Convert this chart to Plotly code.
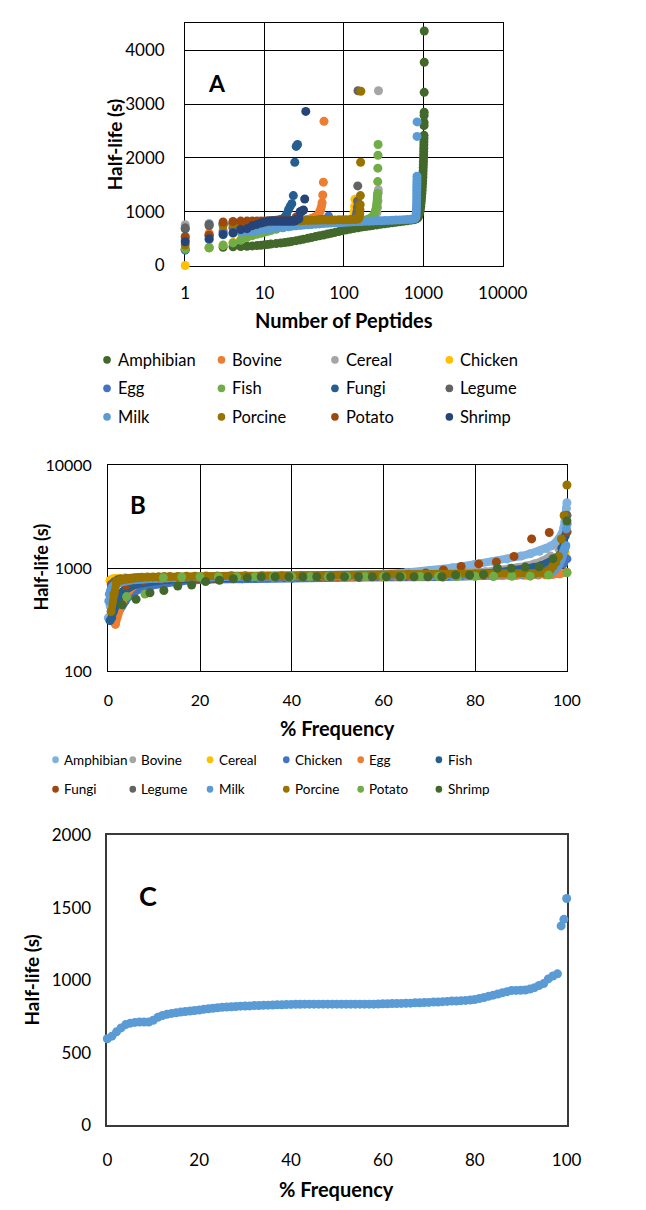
import plotly.graph_objects as go

W, H = 646, 1210

SERIES = ["Amphibian", "Bovine", "Cereal", "Chicken", "Egg", "Fish",
          "Fungi", "Legume", "Milk", "Porcine", "Potato", "Shrimp"]

COLORS_A = {"Amphibian": "#43682B", "Bovine": "#ED7D31", "Cereal": "#A5A5A5",
            "Chicken": "#FFC000", "Egg": "#4472C4", "Fish": "#70AD47",
            "Fungi": "#255E91", "Legume": "#636363", "Milk": "#5B9BD5",
            "Porcine": "#997300", "Potato": "#9E480E", "Shrimp": "#264478"}
COLORS_B = {"Amphibian": "#7FB1DF", "Bovine": "#A5A5A5", "Cereal": "#FFC000",
            "Chicken": "#4472C4", "Egg": "#ED7D31", "Fish": "#255E91",
            "Fungi": "#9E480E", "Legume": "#636363", "Milk": "#5B9BD5",
            "Porcine": "#997300", "Potato": "#70AD47", "Shrimp": "#43682B"}

# ---- (peptide rank, half-life s) (large sets subsampled) ----
AMPHIBIAN_A = [(1, 300), (2, 330), (3, 340), (4, 348), (5, 352), (6, 358), (7, 364), (8, 370), (9, 376),
               (10, 385), (11, 392), (12, 398), (14, 408), (16, 418), (18, 428), (20, 438), (22, 448),
               (25, 462), (28, 476), (31, 490), (35, 505), (39, 520), (44, 537), (49, 552), (55, 567),
               (62, 585), (69, 600), (77, 615), (86, 630), (96, 648), (107, 662), (120, 676), (134, 690),
               (150, 702), (167, 714), (187, 725), (209, 735), (233, 745), (260, 755), (290, 765),
               (324, 775), (362, 784), (404, 793), (451, 802), (503, 812), (561, 822), (626, 832),
               (699, 843), (760, 853), (800, 862), (830, 872), (855, 890), (875, 920), (892, 960),
               (905, 1000), (917, 1050), (927, 1100), (936, 1160), (944, 1220), (951, 1280), (958, 1340),
               (964, 1400), (970, 1460), (975, 1520), (980, 1580), (985, 1640), (989, 1700), (993, 1760),
               (996, 1820), (999, 1880), (1002, 1940), (1005, 2000), (1008, 2060), (1010, 2120),
               (1012, 2180), (1014, 2240), (1016, 2300), (1018, 2360), (1019, 2420), (1020, 2600),
               (1021, 2660), (1022, 2790), (1023, 2850), (1024, 3220), (1025, 3780), (1026, 4360)]
CEREAL = [(1, 760), (2, 780), (3, 790), (4, 795), (6, 800), (10, 808), (16, 812), (25, 815), (40, 818),
          (63, 822), (100, 826), (150, 830), (200, 840), (230, 860), (250, 900), (260, 980), (265, 1080),
          (268, 1200), (270, 1350), (271, 1410), (272, 3250)]
CHICKEN = [(1, 0), (2, 330), (3, 377), (4, 430), (5, 480), (6, 530), (7, 570), (8, 600), (10, 640),
           (13, 680), (17, 720), (22, 750), (30, 775), (40, 790), (55, 800), (75, 810), (100, 820),
           (115, 835), (125, 860), (130, 900), (134, 1000), (136, 1100), (137, 1230)]
FISH = [(1, 310), (2, 330), (3, 380), (4, 420), (5, 470), (6, 520), (7, 555), (8, 580), (9, 600), (10, 620),
        (11, 635), (12, 650), (14, 675), (17, 700), (20, 720), (24, 740), (29, 755), (35, 770), (42, 780),
        (50, 790), (60, 800), (72, 808), (86, 815), (103, 822), (123, 828), (147, 835), (175, 845),
        (200, 860), (215, 880), (228, 910), (238, 945), (245, 980), (250, 1020), (254, 1060), (257, 1100),
        (259, 1140), (261, 1180), (262, 1220), (263, 1260), (264, 1300), (265, 1340), (266, 1560),
        (267, 1810), (268, 2050), (269, 2250)]
LEGUME = [(1, 700), (2, 740), (3, 770), (4, 785), (6, 795), (10, 805), (16, 812), (25, 818), (40, 824),
          (63, 830), (100, 838), (120, 846), (132, 860), (138, 880), (142, 920), (145, 990), (147, 1080),
          (148, 1200), (149, 1480), (150, 3250)]
MILK = [(1, 480), (2, 560), (3, 570), (4, 600), (5, 620), (6, 632), (7, 642), (8, 652), (9, 662), (10, 672),
        (11, 680), (12, 688), (14, 700), (16, 710), (18, 718), (20, 725), (22, 731), (25, 738), (28, 745),
        (31, 751), (35, 757), (39, 763), (44, 769), (49, 774), (55, 779), (62, 784), (69, 788), (77, 792),
        (86, 796), (96, 800), (107, 804), (120, 808), (134, 812), (150, 815), (167, 818), (187, 821),
        (209, 824), (233, 827), (260, 830), (290, 833), (324, 836), (362, 839), (404, 842), (451, 845),
        (503, 848), (561, 852), (626, 856), (699, 861), (750, 866), (780, 872), (795, 885), (805, 910),
        (810, 950), (814, 1000), (817, 1050), (819, 1100), (821, 1160), (823, 1220), (824, 1280),
        (825, 1340), (826, 1400), (827, 1450), (828, 1500), (829, 1550), (830, 1600), (831, 1660),
        (832, 2400), (833, 2670)]
PORCINE = [(1, 380), (2, 560), (3, 742), (4, 760), (5, 772), (6, 782), (7, 790), (8, 797), (9, 803),
           (10, 808), (11, 812), (12, 815), (14, 819), (16, 822), (18, 825), (20, 828), (22, 830), (25, 832),
           (28, 834), (31, 836), (35, 838), (39, 840), (44, 842), (49, 844), (55, 845), (62, 846), (69, 847),
           (77, 848), (86, 849), (96, 850), (107, 851), (120, 852), (134, 855), (145, 860), (152, 870),
           (156, 900), (158, 960), (159, 1040), (160, 1130), (161, 1300), (162, 1920), (163, 3240),
           (164, 6400)]
# ---- small sets: every peptide's half-life, sorted (rank = position) ----
BOVINE_VALUES = [540, 600, 650, 690, 720, 740, 755, 765, 775, 782, 787, 792, 796, 800, 803, 806, 809, 812,
                 815, 818, 820, 822, 824, 826, 828, 830, 832, 834, 836, 838, 840, 843, 846, 849, 852, 856,
                 860, 865, 870, 876, 882, 890, 898, 906, 915, 925, 940, 960, 985, 1010, 1050, 1100, 1170,
                 1310, 1550, 2680]
EGG_VALUES = [285, 480, 620, 700, 740, 760, 770, 780, 785, 790, 793, 796, 799, 802, 804, 806, 808, 810,
              812, 814, 815, 816, 817, 818, 819, 820, 821, 822, 823, 824, 825, 826, 827, 828, 829, 830,
              831, 832, 833, 834, 835, 836, 837, 838, 839, 840, 841, 842, 843, 844, 845, 846, 847, 848,
              849, 850, 852, 854, 856, 858, 862, 868, 880, 915]
FUNGI_VALUES = [680, 760, 770, 780, 790, 798, 805, 810, 815, 820, 825, 830, 835, 840, 848, 856, 870, 900,
                960, 1040, 1100, 1150, 1300, 1920, 2215, 2250]
POTATO_VALUES = [530, 562, 809, 820, 826, 826, 827, 827, 828, 828, 828, 829, 829, 829, 830, 830, 830, 831,
                 831, 832, 833, 834, 837, 858, 902]
SHRIMP_VALUES = [441, 499, 578, 608, 670, 685, 741, 764, 791, 808, 826, 826, 826, 826, 826, 826, 826, 826,
                 826, 826, 826, 826, 826, 826, 858, 858, 870, 1000, 1000, 1024, 1030, 1236, 2865]
# ---- panel B Amphibian: (% frequency, half-life s) ----
AMPHIBIAN_B = [(0, 330), (0.4, 430), (0.8, 530), (1.2, 620), (1.7, 690), (2.3, 740), (3, 770), (4, 785),
               (5.5, 795), (7.5, 803), (10, 810), (15, 818), (20, 824), (30, 832), (40, 840), (50, 848),
               (55, 858), (60, 880), (65, 910), (70, 950), (75, 1010), (80, 1090), (84, 1160), (87, 1230),
               (90, 1310), (92, 1380), (94, 1460), (95.5, 1550), (96.5, 1640), (97.5, 1760), (98.3, 1920),
               (98.9, 2150), (99.3, 2450), (99.6, 2850), (99.8, 3300), (99.9, 3800), (100, 4300)]
# ---- panel C ----
C_PCT = list(range(0, 99)) + [98.8, 99.4, 100]
C_HALF_LIFE = [597, 615, 645, 672, 695, 705, 710, 712, 712, 712,
               725, 745, 758, 766, 772, 777, 781, 785, 788, 792,
               796, 800, 804, 808, 811, 814, 816, 818, 820, 822,
               823, 824, 826, 827, 828, 829, 830, 831, 832, 833,
               834, 835, 835, 836, 836, 836, 836, 836, 836, 836,
               836, 836, 836, 836, 836, 836, 836, 836, 836, 837,
               838, 839, 840, 840, 841, 842, 843, 845, 846, 847,
               848, 850, 851, 853, 855, 857, 858, 860, 862, 864,
               868, 875, 882, 890, 898, 906, 914, 922, 930, 931,
               932, 934, 940, 950, 965, 978, 1010, 1030, 1045,
               1376, 1421, 1565]


def ranked(values):
    return [(i + 1, v) for i, v in enumerate(values)]


DATA = {"Amphibian": AMPHIBIAN_A, "Bovine": ranked(BOVINE_VALUES), "Cereal": CEREAL,
        "Chicken": CHICKEN, "Egg": ranked(EGG_VALUES), "Fish": FISH,
        "Fungi": ranked(FUNGI_VALUES), "Legume": LEGUME, "Milk": MILK, "Porcine": PORCINE,
        "Potato": ranked(POTATO_VALUES), "Shrimp": ranked(SHRIMP_VALUES)}

# styling for panel B: discrete series drawn as dots only; trailing dots left unconnected
B_DISCRETE = {"Fungi", "Potato", "Shrimp"}
B_TAIL = {"Milk": 2, "Porcine": 3, "Fish": 4, "Cereal": 1, "Legume": 2, "Bovine": 2}

A_YMAX = 4500
MS = 9

fig = go.Figure()

# ---------------- Panel A ----------------
for name in SERIES:
    pts = [(r, v) for r, v in DATA[name] if v <= A_YMAX]
    fig.add_trace(go.Scatter(
        x=[p[0] for p in pts], y=[p[1] for p in pts], mode="markers", name=name,
        marker=dict(color=COLORS_A[name], size=MS, line=dict(width=0)),
        xaxis="x", yaxis="y", cliponaxis=False, showlegend=False))

# ---------------- Panel B ----------------
for name in SERIES:
    if name == "Amphibian":
        pts = AMPHIBIAN_B
    else:
        n = DATA[name][-1][0]
        pts = [(100.0 * r / n, v) for r, v in DATA[name] if v > 0]
    xs = [p[0] for p in pts]
    ys = [p[1] for p in pts]
    col = COLORS_B[name]
    if name in B_DISCRETE:
        fig.add_trace(go.Scatter(x=xs, y=ys, mode="markers", name=name,
                                 marker=dict(color=col, size=MS, line=dict(width=0)),
                                 xaxis="x2", yaxis="y2", cliponaxis=False, showlegend=False))
    else:
        k = len(xs) - B_TAIL.get(name, 0)
        fig.add_trace(go.Scatter(x=xs[:k], y=ys[:k], mode="lines+markers", name=name,
                                 line=dict(color=col, width=8),
                                 marker=dict(color=col, size=MS, line=dict(width=0)),
                                 xaxis="x2", yaxis="y2", cliponaxis=False, showlegend=False))
        if k < len(xs):
            fig.add_trace(go.Scatter(x=xs[k:], y=ys[k:], mode="markers", name=name,
                                     marker=dict(color=col, size=MS, line=dict(width=0)),
                                     xaxis="x2", yaxis="y2", cliponaxis=False, showlegend=False))

# ---------------- Panel C ----------------
fig.add_trace(go.Scatter(x=C_PCT, y=C_HALF_LIFE, mode="markers", name="Half-life",
                         marker=dict(color="#5B9BD5", size=MS, line=dict(width=0)),
                         xaxis="x3", yaxis="y3", cliponaxis=False, showlegend=False))


def fx(p):
    return p / W


def fy(p):
    return 1 - p / H


FONT = "Lato"
axis_common = dict(showline=True, mirror=True, linecolor="black", linewidth=1.3, ticks="",
                   zeroline=False, layer="below traces", fixedrange=True)

fig.update_layout(
    width=W, height=H, margin=dict(l=0, r=0, t=0, b=0),
    paper_bgcolor="white", plot_bgcolor="white",
    font=dict(family=FONT, color="black"),
    xaxis=dict(axis_common, domain=[fx(189), fx(522)], anchor="y", type="log", range=[0, 4],
               tickvals=[1, 10, 100, 1000, 10000], ticktext=["1", "10", "100", "1000", "10000"],
               showgrid=True, gridcolor="black", gridwidth=1.3, tickfont=dict(size=17),
               ticklabelstandoff=12),
    yaxis=dict(axis_common, domain=[fy(259), fy(12.7)], anchor="x", range=[0, A_YMAX],
               tickvals=[0, 1000, 2000, 3000, 4000], showgrid=True, gridcolor="black", gridwidth=1.3,
               tickfont=dict(size=17), ticklabelstandoff=16),
    xaxis2=dict(axis_common, domain=[fx(108.3), fx(589.3)], anchor="y2", range=[0, 100],
                tickvals=[0, 20, 40, 60, 80, 100], showgrid=True, gridcolor="black", gridwidth=1.3,
                tickfont=dict(size=16), ticklabelstandoff=14),
    yaxis2=dict(axis_common, domain=[fy(672), fy(462)], anchor="x2", type="log", range=[2, 4],
                tickvals=[100, 1000, 10000], ticktext=["100", "1000", "10000"], showgrid=True,
                gridcolor="black", gridwidth=1.3, tickfont=dict(size=16), ticklabelstandoff=12),
    xaxis3=dict(axis_common, domain=[fx(107.3), fx(589)], anchor="y3", range=[0, 100],
                tickvals=[0, 20, 40, 60, 80, 100], showgrid=False, linecolor="#3a3a3a", linewidth=1.6,
                tickfont=dict(size=17), ticklabelstandoff=18),
    yaxis3=dict(axis_common, domain=[fy(1134), fy(839)], anchor="x3", range=[0, 2000],
                tickvals=[0, 500, 1000, 1500, 2000], showgrid=False, linecolor="#3a3a3a",
                linewidth=1.6, tickfont=dict(size=17), ticklabelstandoff=11),
)

ann = []


def text(s, x, y, size, bold=False, angle=0, xanchor="center"):
    ann.append(dict(text=f"<b>{s}</b>" if bold else s, x=fx(x), y=fy(y), xref="paper", yref="paper",
                    showarrow=False, font=dict(size=size, family=FONT, color="black"),
                    textangle=angle, xanchor=xanchor, yanchor="middle"))


# titles and panel labels
text("Half-life (s)", 115, 136, 19, bold=True, angle=-90)
text("Number of Peptides", 355, 314, 20, bold=True)
text("A", 222, 73, 23, bold=True)
text("Half-life (s)", 38, 566, 18, bold=True, angle=-90)
text("% Frequency", 349, 730, 20, bold=True)
text("B", 140, 502, 24, bold=True)
text("Half-life (s)", 28, 986, 19, bold=True, angle=-90)
text("% Frequency", 348, 1199, 20, bold=True)
text("C", 150, 900, 27, bold=True)

shapes = []


def legend_entry(name, color, cx, cy, r, size, gap):
    shapes.append(dict(type="circle", xref="paper", yref="paper", x0=fx(cx - r), x1=fx(cx + r),
                       y0=fy(cy + r), y1=fy(cy - r), fillcolor=color, line=dict(width=0)))
    text(name, cx + gap, cy, size, xanchor="left")


A_COLS = [107, 227, 346, 466]
A_ROWS = [355, 384, 413]
for i, name in enumerate(SERIES):
    legend_entry(name, COLORS_A[name], A_COLS[i % 4], A_ROWS[i // 4], 4, 16.5, 9)

B_COLS = [53, 134, 215, 295, 373, 455]
B_ROWS = [762, 792]
for i, name in enumerate(SERIES):
    legend_entry(name, COLORS_B[name], B_COLS[i % 6], B_ROWS[i // 6], 3.5, 13.5, 7)

fig.update_layout(annotations=ann, shapes=shapes)
PAGE_FIX = ("document.documentElement.style.margin='0px';document.body.style.margin='0px';"
            "document.documentElement.style.overflow='hidden';document.body.style.overflow='hidden';")
fig.write_html("out.html", config={"displayModeBar": False}, post_script=PAGE_FIX)
